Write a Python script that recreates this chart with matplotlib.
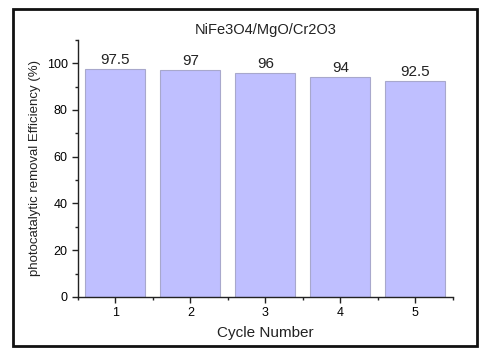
import matplotlib
matplotlib.use("Agg")
import matplotlib.pyplot as plt
from matplotlib.patches import Rectangle
from matplotlib.ticker import MultipleLocator

plt.rcParams['font.family'] = ['Liberation Sans', 'DejaVu Sans']

# data
cycles = [1, 2, 3, 4, 5]
efficiency = [97.5, 97, 96, 94, 92.5]
labels = ['97.5', '97', '96', '94', '92.5']

fig = plt.figure(figsize=(4.8, 3.56), dpi=100)
ax = fig.add_axes([0.1625, 0.166, 0.781, 0.722])

bars = ax.bar(cycles, efficiency, width=0.8, color='#bfbfff', edgecolor='#a8a8cc', linewidth=0.8)
for b, lab in zip(bars, labels):
    ax.text(b.get_x() + b.get_width() / 2, b.get_height() + 0.8, lab,
            ha='center', va='bottom', fontsize=11, color='#222222')

ax.set_xlim(0.5, 5.5)
ax.set_ylim(0, 110)
ax.set_xticks(cycles)
ax.yaxis.set_major_locator(MultipleLocator(20))
ax.yaxis.set_minor_locator(MultipleLocator(10))
ax.xaxis.set_minor_locator(MultipleLocator(0.5))
ax.tick_params(which='major', direction='out', length=4, width=1, labelsize=9, color='#222222')
ax.tick_params(which='minor', direction='out', length=2, width=1, color='#222222')

for s in ['top', 'right']:
    ax.spines[s].set_visible(False)
for s in ['left', 'bottom']:
    ax.spines[s].set_linewidth(1)
    ax.spines[s].set_color('#222222')

ax.set_title('NiFe3O4/MgO/Cr2O3', fontsize=10.5, pad=4, color='#222222')
ax.set_xlabel('Cycle Number', fontsize=11, labelpad=5, color='#222222')
ax.set_ylabel('photocatalytic removal Efficiency (%)', fontsize=9.5, labelpad=4, color='#222222')

# outer frame
fig.patches.append(Rectangle((13 / 480, 1 - 346 / 356), 464 / 480, 337 / 356,
                             transform=fig.transFigure, fill=False,
                             edgecolor='#111111', linewidth=2))

fig.savefig('out.png', dpi=100)
